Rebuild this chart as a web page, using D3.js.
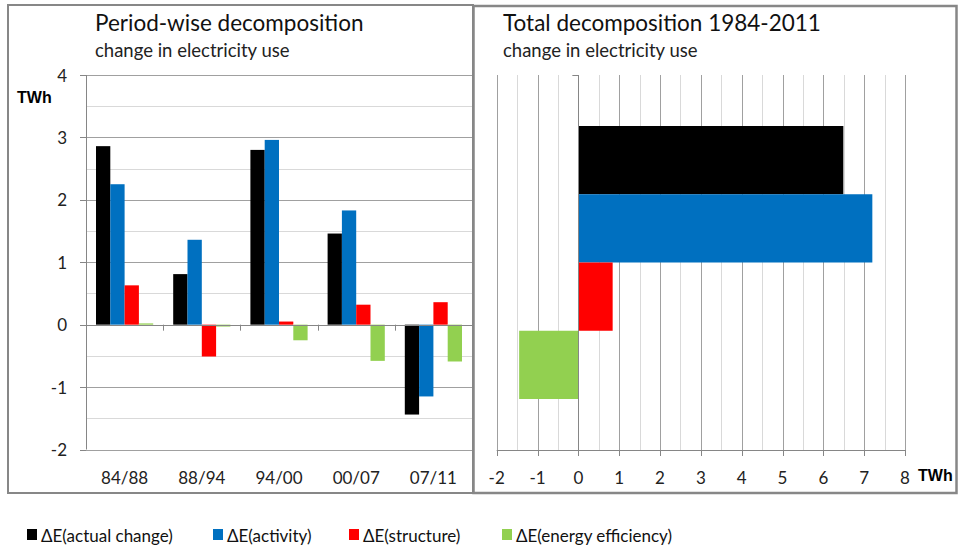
<!DOCTYPE html>
<html>
<head>
<meta charset="utf-8">
<script src="https://cdn.jsdelivr.net/npm/d3@7"></script>
<style>
  body { margin: 0; background: #fff; }
  svg { display: block; font-family: Lato, "Open Sans", sans-serif; }
  .grid-major { stroke: #a0a0a0; stroke-width: 1; }
  .grid-minor { stroke: #d9d9d9; stroke-width: 1; }
  .axis-line { stroke: #868686; stroke-width: 1; }
  .tick-label { font-size: 17px; fill: #222; }
  .unit { font-family: "Liberation Sans", Arial, sans-serif; font-weight: bold; font-size: 16px; fill: #000; }
</style>
</head>
<body>
<div id="chart"></div>
<script>
// data
var periods = ["84/88", "88/94", "94/00", "00/07", "07/11"];
var seriesNames = ["ΔE(actual change)", "ΔE(activity)", "ΔE(structure)", "ΔE(energy efficiency)"];
var seriesColors = ["#000000", "#0070c0", "#ff0000", "#92d050"];
var actualChange = [2.86, 0.81, 2.80, 1.46, -1.44];
var activity = [2.25, 1.36, 2.96, 1.83, -1.15];
var structure = [0.63, -0.51, 0.05, 0.32, 0.36];
var efficiency = [0.02, -0.03, -0.25, -0.58, -0.59];
var totalValues = [6.49, 7.20, 0.84, -1.45];
var leftTicks = [-2, -1, 0, 1, 2, 3, 4];
var rightTicks = [-2, -1, 0, 1, 2, 3, 4, 5, 6, 7, 8];

var periodSeries = [actualChange, activity, structure, efficiency];

var W = 958, H = 548;
var svg = d3.select("#chart").append("svg")
	.attr("width", W)
	.attr("height", H);

// panel frames
svg.append("rect")
	.attr("x", 8).attr("y", 5).attr("width", 465).attr("height", 488)
	.attr("fill", "none").attr("stroke", "#878787").attr("stroke-width", 2);
svg.append("rect")
	.attr("x", 473.5).attr("y", 6).attr("width", 483).attr("height", 487)
	.attr("fill", "none").attr("stroke", "#878787").attr("stroke-width", 2.5);

// ---------- LEFT: period-wise ----------
var L = { left: 86, right: 472, top: 75, bottom: 449.5 };

var y = d3.scaleLinear()
	.domain([-2, 4])
	.range([L.bottom, L.top]);

var x0 = d3.scaleBand()
	.domain(periods)
	.range([L.left, L.right]);

var x1 = d3.scaleBand()
	.domain(d3.range(seriesNames.length))
	.range([10, x0.bandwidth() - 10]);

var left = svg.append("g");

// gridlines every 0.5
left.selectAll("line.hgrid")
	.data(d3.range(-2, 4.01, 0.5))
	.enter().append("line")
	.attr("class", function(d) { return Number.isInteger(d) ? "grid-major" : "grid-minor"; })
	.attr("x1", L.left).attr("x2", L.right)
	.attr("y1", function(d) { return Math.round(y(d)) + 0.5; })
	.attr("y2", function(d) { return Math.round(y(d)) + 0.5; });

// y axis
left.append("line")
	.attr("class", "axis-line")
	.attr("x1", L.left + 0.5).attr("x2", L.left + 0.5)
	.attr("y1", L.top).attr("y2", L.bottom);

left.selectAll("line.ytick")
	.data(leftTicks)
	.enter().append("line")
	.attr("class", "axis-line")
	.attr("x1", L.left - 6).attr("x2", L.left)
	.attr("y1", function(d) { return Math.round(y(d)) + 0.5; })
	.attr("y2", function(d) { return Math.round(y(d)) + 0.5; });

left.selectAll("text.ylab")
	.data(leftTicks)
	.enter().append("text")
	.attr("class", "tick-label")
	.attr("x", 67)
	.attr("y", function(d) { return y(d); })
	.attr("text-anchor", "end")
	.attr("dominant-baseline", "central")
	.text(function(d) { return d; });

left.append("text")
	.attr("class", "unit")
	.attr("x", 17).attr("y", 103)
	.text("TWh");

// bars
var groups = left.selectAll("g.period")
	.data(periods)
	.enter().append("g")
	.attr("transform", function(d) { return "translate(" + x0(d) + ",0)"; });

groups.selectAll("rect")
	.data(function(d, i) { return periodSeries.map(function(s, j) { return { s: j, v: s[i] }; }); })
	.enter().append("rect")
	.attr("x", function(d) { return x1(d.s); })
	.attr("width", x1.bandwidth())
	.attr("y", function(d) { return y(Math.max(0, d.v)); })
	.attr("height", function(d) { return Math.abs(y(d.v) - y(0)); })
	.attr("fill", function(d) { return seriesColors[d.s]; });

// category axis at zero
left.append("line")
	.attr("class", "axis-line")
	.attr("x1", L.left).attr("x2", L.right)
	.attr("y1", Math.round(y(0)) + 0.5).attr("y2", Math.round(y(0)) + 0.5);

left.selectAll("line.xtick")
	.data(periods.slice(1))
	.enter().append("line")
	.attr("class", "axis-line")
	.attr("x1", function(d) { return Math.round(x0(d)) + 0.5; })
	.attr("x2", function(d) { return Math.round(x0(d)) + 0.5; })
	.attr("y1", y(0)).attr("y2", y(0) + 6);

left.selectAll("text.xlab")
	.data(periods)
	.enter().append("text")
	.attr("class", "tick-label")
	.attr("x", function(d) { return x0(d) + x0.bandwidth() / 2; })
	.attr("y", 477)
	.attr("text-anchor", "middle")
	.attr("dominant-baseline", "central")
	.text(function(d) { return d; });

left.append("text")
	.attr("x", 95).attr("y", 31)
	.attr("font-size", 22.5).attr("fill", "#111")
	.text("Period-wise decomposition");
left.append("text")
	.attr("x", 95).attr("y", 57)
	.attr("font-size", 18.5).attr("fill", "#222")
	.text("change in electricity use");

// ---------- RIGHT: total ----------
var R = { left: 496.7, right: 905, top: 75, bottom: 450 };

var xr = d3.scaleLinear()
	.domain([-2, 8])
	.range([R.left, R.right]);

var yr0 = d3.scaleBand()
	.domain(["1984-2011"])
	.range([R.top, R.bottom]);

var gap = yr0.bandwidth() * 0.136;
var yr1 = d3.scaleBand()
	.domain(d3.range(seriesNames.length))
	.range([gap, yr0.bandwidth() - gap]);

var right = svg.append("g");

right.selectAll("line.vgrid")
	.data(d3.range(-2, 8.01, 0.5))
	.enter().append("line")
	.attr("class", function(d) { return Number.isInteger(d) ? "grid-major" : "grid-minor"; })
	.attr("x1", function(d) { return Math.round(xr(d)) + 0.5; })
	.attr("x2", function(d) { return Math.round(xr(d)) + 0.5; })
	.attr("y1", R.top).attr("y2", R.bottom);

right.selectAll("rect")
	.data(totalValues)
	.enter().append("rect")
	.attr("x", function(d) { return xr(Math.min(0, d)); })
	.attr("width", function(d) { return Math.abs(xr(d) - xr(0)); })
	.attr("y", function(d, i) { return yr0("1984-2011") + yr1(i); })
	.attr("height", yr1.bandwidth())
	.attr("fill", function(d, i) { return seriesColors[i]; });

// value axis
right.append("line")
	.attr("class", "axis-line")
	.attr("x1", R.left).attr("x2", R.right)
	.attr("y1", R.bottom + 0.5).attr("y2", R.bottom + 0.5);

right.selectAll("line.xtick")
	.data(rightTicks)
	.enter().append("line")
	.attr("class", "axis-line")
	.attr("x1", function(d) { return Math.round(xr(d)) + 0.5; })
	.attr("x2", function(d) { return Math.round(xr(d)) + 0.5; })
	.attr("y1", R.bottom).attr("y2", R.bottom + 6);

right.selectAll("text.xlab")
	.data(rightTicks)
	.enter().append("text")
	.attr("class", "tick-label")
	.attr("x", function(d) { return xr(d); })
	.attr("y", 477)
	.attr("text-anchor", "middle")
	.attr("dominant-baseline", "central")
	.text(function(d) { return d; });

// category axis at zero
right.append("line")
	.attr("class", "axis-line")
	.attr("x1", Math.round(xr(0)) + 0.5).attr("x2", Math.round(xr(0)) + 0.5)
	.attr("y1", R.top).attr("y2", R.bottom);
right.append("line")
	.attr("class", "axis-line")
	.attr("x1", xr(0) - 6).attr("x2", xr(0))
	.attr("y1", R.top + 0.5).attr("y2", R.top + 0.5);

right.append("text")
	.attr("class", "unit")
	.attr("x", 918).attr("y", 481)
	.text("TWh");

right.append("text")
	.attr("x", 503).attr("y", 31)
	.attr("font-size", 22.5).attr("fill", "#111")
	.text("Total decomposition 1984-2011");
right.append("text")
	.attr("x", 503).attr("y", 57)
	.attr("font-size", 18.5).attr("fill", "#222")
	.text("change in electricity use");

// ---------- legend ----------
var legendX = [27, 213, 349, 502];
var legend = svg.selectAll("g.legend")
	.data(seriesNames)
	.enter().append("g")
	.attr("transform", function(d, i) { return "translate(" + legendX[i] + ",529)"; });

legend.append("rect")
	.attr("width", 10).attr("height", 11)
	.attr("fill", function(d, i) { return seriesColors[i]; });

legend.append("text")
	.attr("x", 14).attr("y", 6)
	.attr("dominant-baseline", "central")
	.attr("font-size", 17).attr("fill", "#111")
	.text(function(d) { return d; });
</script>
</body>
</html>
